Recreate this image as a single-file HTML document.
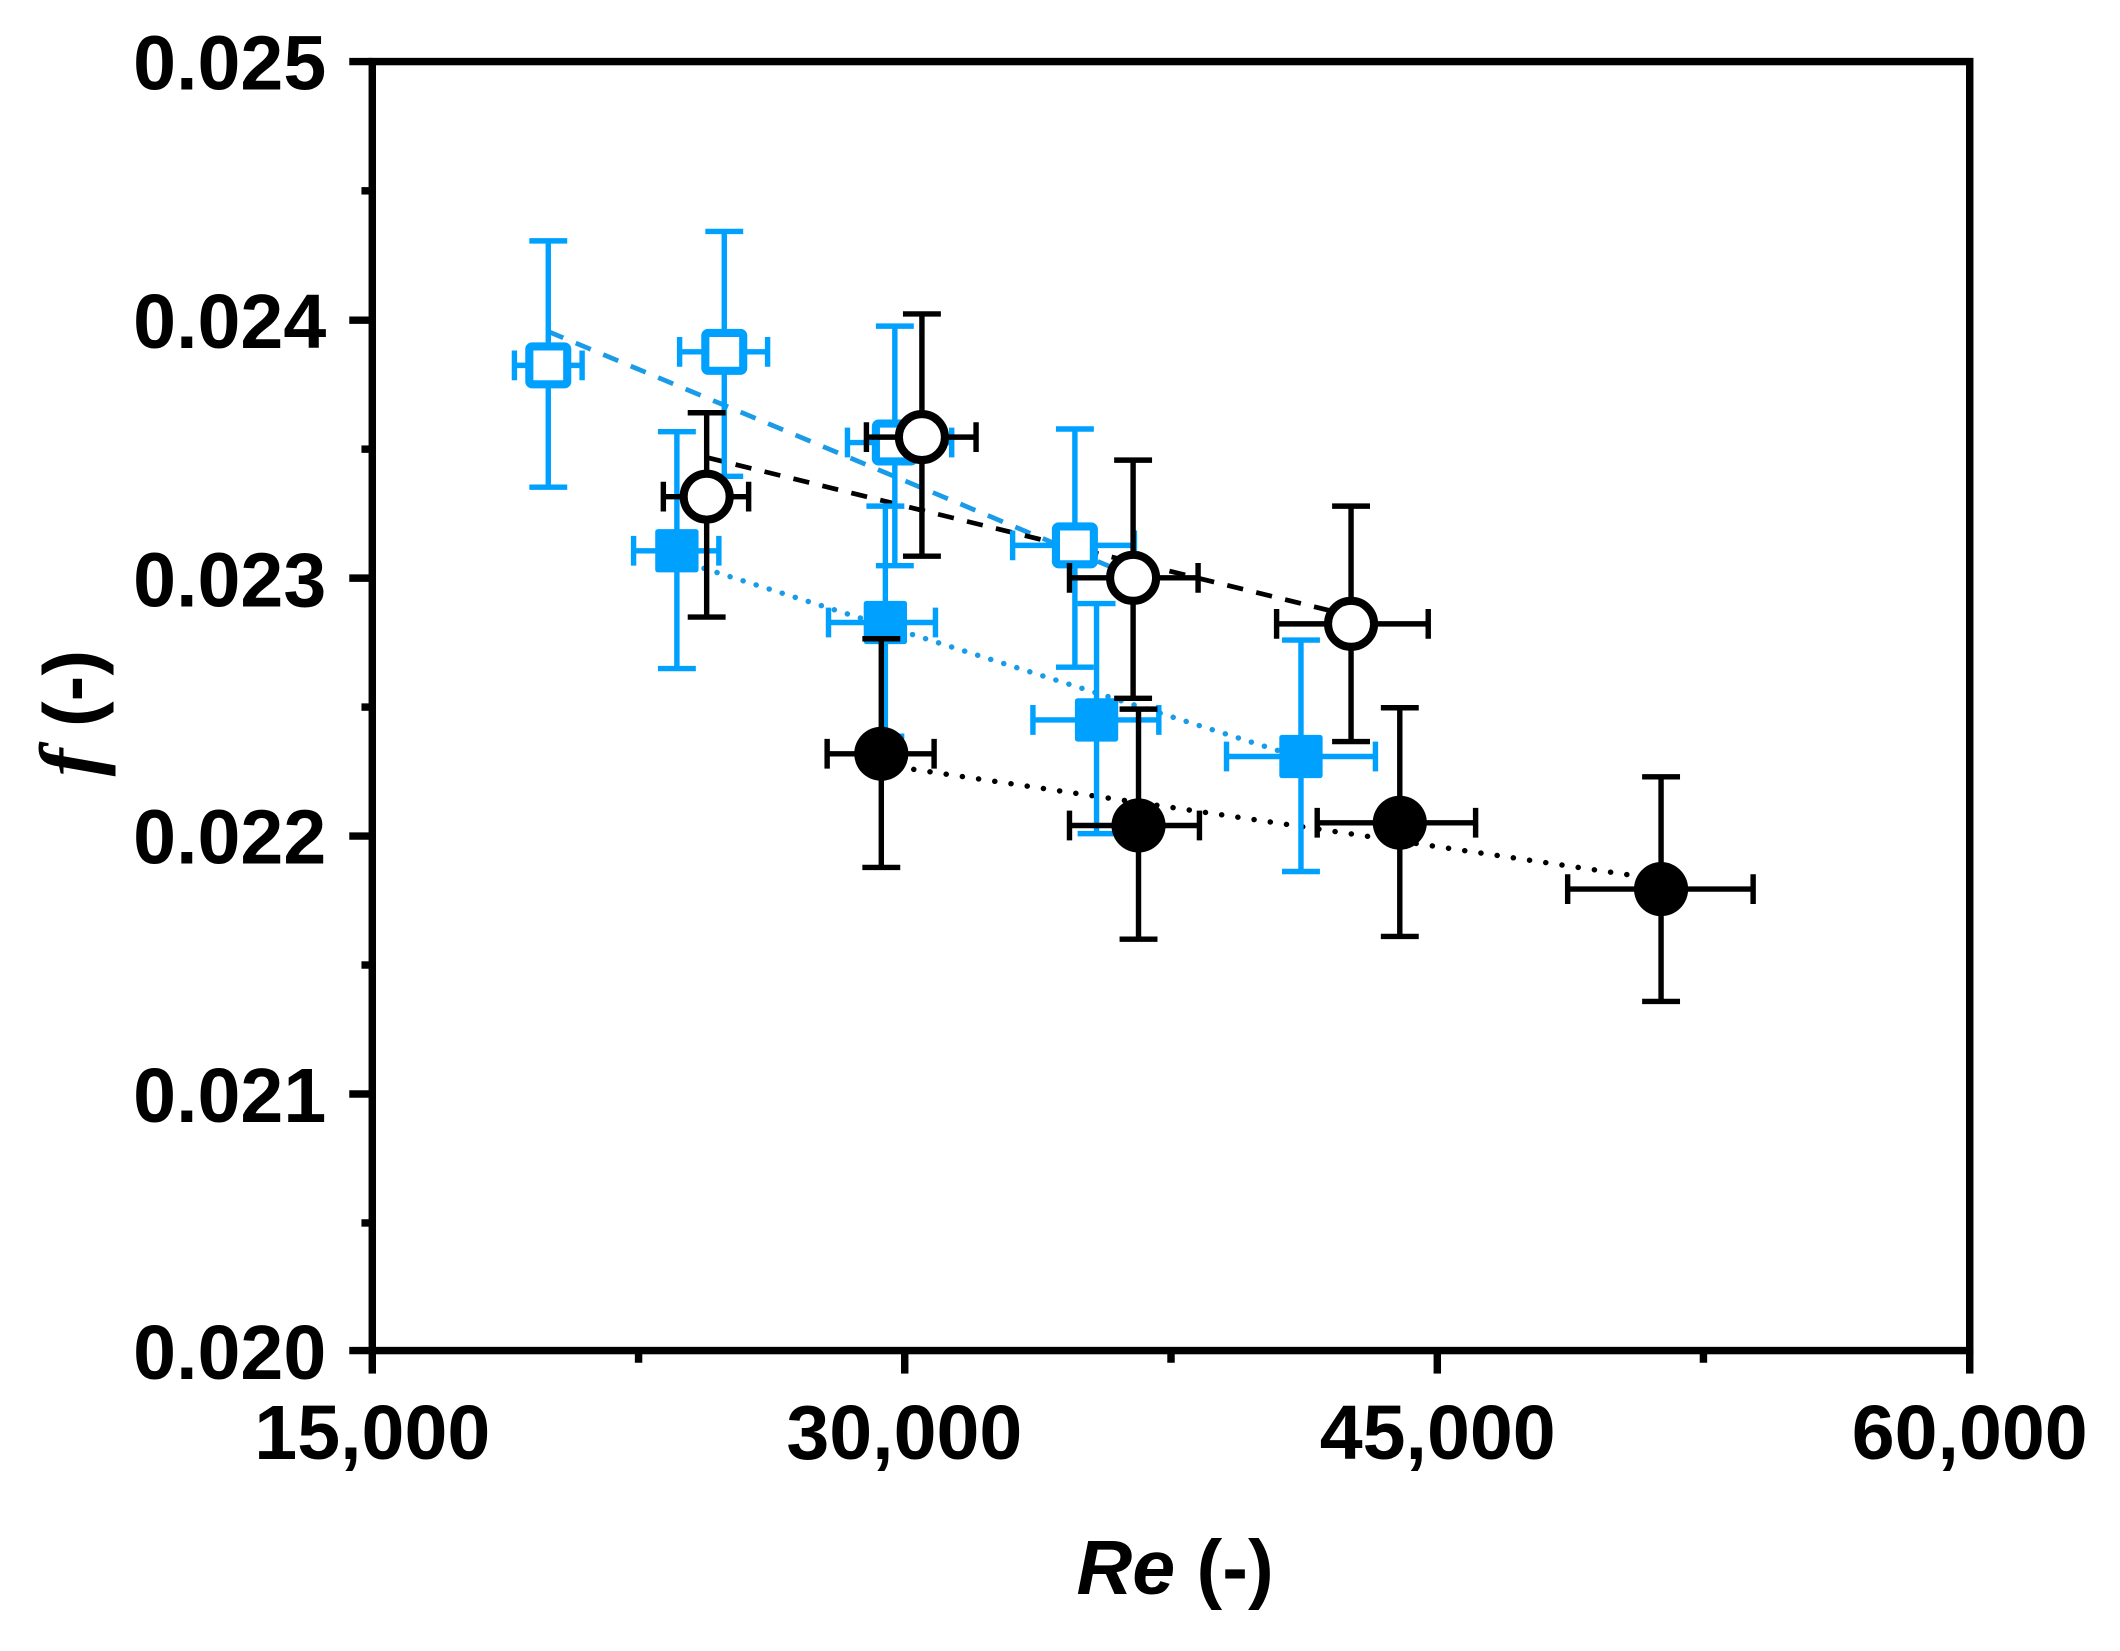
<!DOCTYPE html>
<html><head><meta charset="utf-8"><style>
html,body{margin:0;padding:0;background:#fff;}
svg{display:block;}
text{font-family:"Liberation Sans",Arial,sans-serif;font-weight:bold;fill:#000;}
</style></head><body>
<svg width="2120" height="1651" viewBox="0 0 1566 1220" preserveAspectRatio="none" xmlns="http://www.w3.org/2000/svg">
<rect width="1566" height="1220" fill="#fff"/>
<rect x="275" y="45.5" width="1180" height="952.5" fill="none" stroke="#000" stroke-width="5.5"/>
<g stroke="#000" stroke-width="5.5">
<line x1="258" y1="45.5" x2="275" y2="45.5"/>
<line x1="258" y1="236.6" x2="275" y2="236.6"/>
<line x1="258" y1="427.2" x2="275" y2="427.2"/>
<line x1="258" y1="617.8" x2="275" y2="617.8"/>
<line x1="258" y1="808.4" x2="275" y2="808.4"/>
<line x1="258" y1="998" x2="275" y2="998"/>
<line x1="267" y1="141" x2="275" y2="141"/>
<line x1="267" y1="331.9" x2="275" y2="331.9"/>
<line x1="267" y1="522.5" x2="275" y2="522.5"/>
<line x1="267" y1="713.1" x2="275" y2="713.1"/>
<line x1="267" y1="903.7" x2="275" y2="903.7"/>
<line x1="275" y1="998" x2="275" y2="1015"/>
<line x1="668.3" y1="998" x2="668.3" y2="1015"/>
<line x1="1061.7" y1="998" x2="1061.7" y2="1015"/>
<line x1="1455" y1="998" x2="1455" y2="1015"/>
<line x1="471.7" y1="998" x2="471.7" y2="1007"/>
<line x1="865" y1="998" x2="865" y2="1007"/>
<line x1="1258.3" y1="998" x2="1258.3" y2="1007"/>
</g>
<g font-size="57" text-anchor="end">
<text x="241" y="66">0.025</text>
<text x="241" y="257">0.024</text>
<text x="241" y="448">0.023</text>
<text x="241" y="638">0.022</text>
<text x="241" y="829">0.021</text>
<text x="241" y="1019">0.020</text>
</g>
<g font-size="57" text-anchor="middle">
<text x="275" y="1078">15,000</text>
<text x="668" y="1078">30,000</text>
<text x="1062" y="1078">45,000</text>
<text x="1455" y="1078">60,000</text>
</g>
<text x="868" y="1178" font-size="57" text-anchor="middle"><tspan style="font-style:italic">Re</tspan> (-)</text>
<text transform="translate(72,527) rotate(-90)" font-size="57" text-anchor="middle"><tspan style="font-family:'Liberation Serif',serif;font-style:italic;font-size:62px">f</tspan> (-)</text>

<line x1="405" y1="245" x2="835" y2="425" stroke="#1a9be8" stroke-width="3.5" stroke-dasharray="12,10"/>
<line x1="522" y1="338" x2="998" y2="455" stroke="#000" stroke-width="3.5" stroke-dasharray="12,10"/>
<line x1="520" y1="420" x2="961" y2="560" stroke="#1a9be8" stroke-width="4" stroke-dasharray="0.1,10" stroke-linecap="round"/>
<line x1="651" y1="565" x2="1227" y2="650" stroke="#000" stroke-width="4" stroke-dasharray="0.1,12" stroke-linecap="round"/>

<g stroke="#00a0ff" stroke-width="4" fill="none">
<path d="M405 178V360M391 178H419M391 360H419M380 270H430M380 259V281M430 259V281"/>
<path d="M535 171V352M521 171H549M521 352H549M502 260H567M502 249V271M567 249V271"/>
<path d="M661 241V418M647 241H675M647 418H675M626 327H703M626 316V338M703 316V338"/>
<path d="M794 317V493M780 317H808M780 493H808M748 403H838M748 392V414M838 392V414"/>
<path d="M500 319V494M486 319H514M486 494H514M468 407H531M468 396V418M531 396V418"/>
<path d="M654 374V544M640 374H668M640 544H668M612 460H691M612 449V471M691 449V471"/>
<path d="M810 446V616M796 446H824M796 616H824M763 532H856M763 521V543M856 521V543"/>
<path d="M961 473V644M947 473H975M947 644H975M906 559H1016M906 548V570M1016 548V570"/>
</g>
<g fill="#00a0ff">
<rect x="484" y="391" width="32" height="32" rx="2"/>
<rect x="638" y="444" width="32" height="32" rx="2"/>
<rect x="794" y="516" width="32" height="32" rx="2"/>
<rect x="945" y="543" width="32" height="32" rx="2"/>
</g>
<g fill="#fff" stroke="#00a0ff" stroke-width="6">
<rect x="391" y="256" width="28" height="28" rx="2"/>
<rect x="521" y="246" width="28" height="28" rx="2"/>
<rect x="647" y="313" width="28" height="28" rx="2"/>
<rect x="780" y="389" width="28" height="28" rx="2"/>
</g>

<g stroke="#000" stroke-width="4" fill="none">
<path d="M522 305V456M508 305H536M508 456H536M490 367H553M490 356V378M553 356V378"/>
<path d="M681 232V411M667 232H695M667 411H695M640 323H721M640 312V334M721 312V334"/>
<path d="M837 340V516M823 340H851M823 516H851M790 427H885M790 416V438M885 416V438"/>
<path d="M998 374V548M984 374H1012M984 548H1012M943 461H1055M943 450V472M1055 450V472"/>
<path d="M651 472V641M637 472H665M637 641H665M611 557H690M611 546V568M690 546V568"/>
<path d="M841 524V694M827 524H855M827 694H855M790 610H886M790 599V621M886 599V621"/>
<path d="M1034 523V692M1020 523H1048M1020 692H1048M973 608H1090M973 597V619M1090 597V619"/>
<path d="M1227 574V740M1213 574H1241M1213 740H1241M1158 657H1295M1158 646V668M1295 646V668"/>
</g>
<g fill="#fff" stroke="#000" stroke-width="6">
<circle cx="522" cy="367" r="17"/>
<circle cx="681" cy="323" r="17"/>
<circle cx="837" cy="427" r="17"/>
<circle cx="998" cy="461" r="17"/>
</g>
<g fill="#000">
<circle cx="651" cy="557" r="20"/>
<circle cx="841" cy="610" r="20"/>
<circle cx="1034" cy="608" r="20"/>
<circle cx="1227" cy="657" r="20"/>
</g>
</svg>
</body></html>
